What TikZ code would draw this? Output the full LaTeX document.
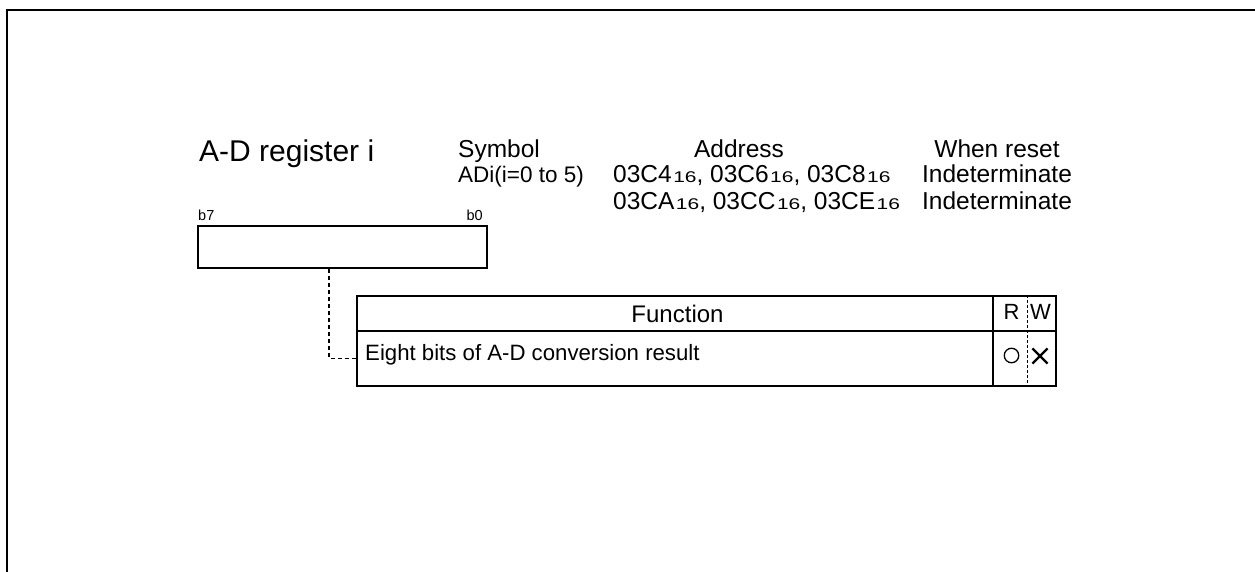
\documentclass[tikz,border=0pt]{standalone}
\usepackage{fontspec}
\setmainfont{Liberation Sans}
\newfontfamily\subfont[FakeStretch=1.35]{Liberation Sans}
\usetikzlibrary{shapes.misc}
\newcommand{\sixteen}{{\fontsize{15.5}{15.5}\subfont\kern1.5pt 16}}
\tikzset{
  x=1pt, y=-1pt,
  txt/.style={inner sep=0pt, font=\fontsize{24.5}{24.5}\selectfont},
  small/.style={inner sep=0pt, font=\fontsize{14.5}{14.5}\selectfont},
  regbox/.style={draw, line width=1.8pt, minimum width=289pt, minimum height=42pt, inner sep=0pt},
  cell/.style={draw, line width=2.2pt, inner sep=0pt},
  conn/.style={line width=1.6pt, dash pattern=on 4pt off 3pt},
  frame/.style={line width=2.4pt},
}
\begin{document}
\begin{tikzpicture}
\useasboundingbox (0,0) rectangle (1255,572);
% frame
\coordinate (ftl) at (7,10);
\coordinate (ftr) at (1255,10);
\coordinate (fbl) at (7,572);
\draw[frame] (ftr) -- (ftl) -- (fbl);

% headings
\node[txt, anchor=base west, font=\fontsize{30}{30}\selectfont] (title) at (199,162) {A-D register i};
\node[txt, anchor=base west] (sym) at (458,158) {Symbol};
\node[txt, anchor=base west, font=\fontsize{22.5}{22.5}\selectfont] (symv) at (458,183) {ADi(i=0 to 5)};
\node[txt, anchor=base] (addr) at (739,158) {Address};
\node[txt, anchor=base west] (addr1) at (613,183) {03C4\sixteen, 03C6\sixteen, 03C8\sixteen};
\node[txt, anchor=base west] (addr2) at (613,209) {03CA\sixteen, 03CC\sixteen, 03CE\sixteen};
\node[txt, anchor=base] (rst) at (997,158) {When reset};
\node[txt, anchor=base] (rst1) at (997,183) {Indeterminate};
\node[txt, anchor=base] (rst2) at (997,209) {Indeterminate};

% register box
\node[regbox] (reg) at (342.5,247) {};
\node[small, anchor=base west] (b7) at (198,221) {b7};
\node[small, anchor=base east] (b0) at (483,221) {b0};

% table
\node[cell, minimum width=636pt, minimum height=35pt] (hdr) at (675,313.5) {};
\node[txt, anchor=base, font=\fontsize{24}{24}\selectfont] (hdrt) at (677.5,322) {Function};
\node[cell, minimum width=636pt, minimum height=55pt] (fn) at (675,358.5) {};
\node[txt, anchor=base west, font=\fontsize{22.2}{22.2}\selectfont] (fnt) at (365,360) {Eight bits of A-D conversion result};
\node[cell, minimum width=63pt, minimum height=35pt] (rwh) at (1024.5,313.5) {};
\node[cell, minimum width=63pt, minimum height=55pt] (rwv) at (1024.5,358.5) {};
\draw[line width=0.9pt, dash pattern=on 3pt off 2pt] (rwh.north -| 1027,0) -- (rwv.south -| 1027,0);
\node[txt, anchor=base, font=\fontsize{22}{22}\selectfont] (rh) at (1011.5,319) {R};
\node[txt, anchor=base, font=\fontsize{22}{22}\selectfont] (wh) at (1040.5,319) {W};
\node[circle, draw, line width=1.3pt, minimum size=14.5pt, inner sep=0pt] (rv) at (1011.5,355.5) {};
\node[cross out, draw, line width=2.2pt, minimum size=13pt, inner sep=0pt] (wv) at (1040,356) {};

% connector
\draw[conn] ([xshift=132pt]reg.south west) |- (fn.west);
\end{tikzpicture}
\end{document}
